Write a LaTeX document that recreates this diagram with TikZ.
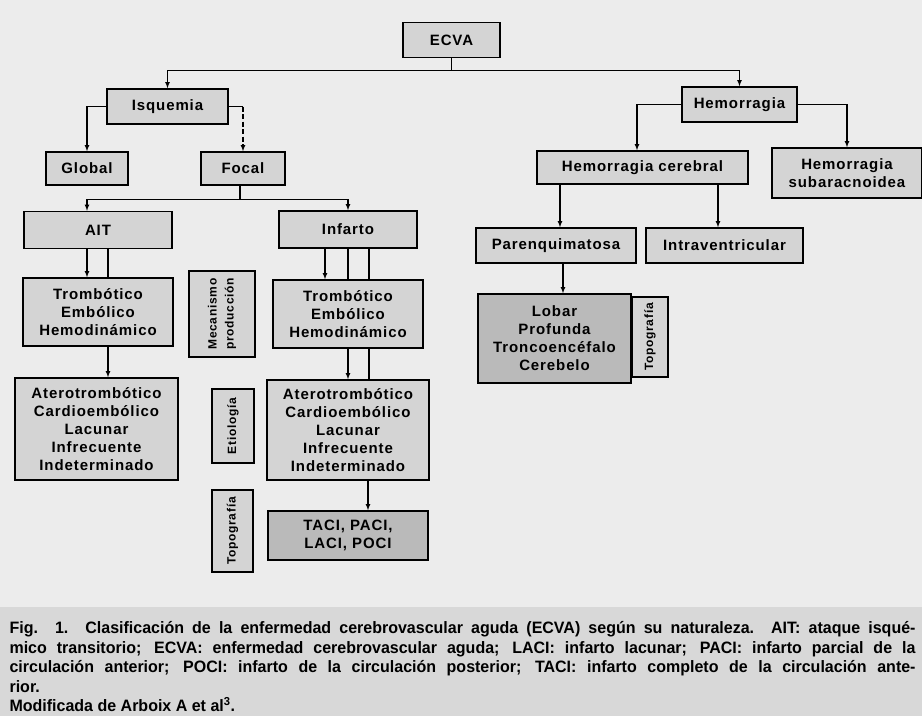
\documentclass[tikz,border=0pt]{standalone}
\usepackage{fontspec}
\setmainfont{Liberation Sans}
\newfontfamily\boxfont[LetterSpace=6]{Liberation Sans}
\newfontfamily\capfont[FakeStretch=0.97]{Liberation Sans}
\usetikzlibrary{calc}

\definecolor{paper}{RGB}{236,236,236}
\definecolor{band}{RGB}{216,216,216}
\definecolor{boxgray}{RGB}{212,212,212}
\definecolor{boxdark}{RGB}{186,186,186}

\tikzset{
  box/.style={draw, line width=1.4pt, fill=boxgray, inner sep=0pt, align=center,
    font=\boxfont\bfseries\fontsize{15}{18}\selectfont},
  darkbox/.style={box, fill=boxdark},
  sidebox/.style={box, rotate=90, font=\boxfont\bfseries\fontsize{12}{17}\selectfont},
}

\begin{document}
\begin{tikzpicture}[x=1pt,y=-1pt,>=latex,line width=1.1pt]
                \fill[paper] (0,0) rectangle (922,716);
                \fill[band] (0,607) rectangle (922,716);
                \useasboundingbox (0,0) rectangle (922,716);

                \node[box, minimum width=97pt, minimum height=35pt] (ecva) at (451.5,40) {ECVA};
                \node[box, minimum width=121pt, minimum height=35pt] (isq) at (167.5,106.5) {Isquemia};
                \node[box, minimum width=115pt, minimum height=35pt] (hemo) at (739.5,104.5) {Hemorragia};

                \node[box, minimum width=82pt, minimum height=33pt] (global) at (87,168.5) {Global};
                \node[box, minimum width=84pt, minimum height=33pt] (focal) at (243,168.5) {Focal};
                \node[box, minimum width=211pt, minimum height=33pt] (hemc) at (642.5,167.5) {Hemorragia cerebral};
                \node[box, minimum width=150pt, minimum height=50pt] (hsub) at (847,173) {Hemorragia\\subaracnoidea};

                \node[box, minimum width=148pt, minimum height=37pt] (ait) at (98,230) {AIT};
                \node[box, minimum width=138pt, minimum height=37pt] (infarto) at (348,229.5) {Infarto};
                \node[box, minimum width=160pt, minimum height=35pt] (parenq) at (556,245.5) {Parenquimatosa};
                \node[box, minimum width=157pt, minimum height=35pt] (intra) at (724.5,245.5) {Intraventricular};

                \node[box, minimum width=150pt, minimum height=68pt] (trombA) at (98,312) {Trombótico\\Embólico\\Hemodinámico};
                \node[box, minimum width=150pt, minimum height=68pt] (trombI) at (348,314) {Trombótico\\Embólico\\Hemodinámico};
                \node[sidebox, minimum width=86pt, minimum height=66pt] (meca) at (222,314) {Mecanismo\\producción};
                \node[darkbox, minimum width=153pt, minimum height=89pt] (lobar) at (554.5,338.5) {Lobar\\Profunda\\Troncoencéfalo\\Cerebelo};
                \node[sidebox, minimum width=80pt, minimum height=36pt] (topoH) at (650,337) {Topografía};

                \node[box, minimum width=163pt, minimum height=102pt] (aterA) at (96.5,429) {Aterotrombótico\\Cardioembólico\\Lacunar\\Infrecuente\\Indeterminado};
                \node[box, minimum width=162pt, minimum height=100pt] (aterI) at (348,430) {Aterotrombótico\\Cardioembólico\\Lacunar\\Infrecuente\\Indeterminado};
                \node[sidebox, minimum width=74pt, minimum height=42pt] (etio) at (233,426) {Etiología};

                \node[darkbox, minimum width=160pt, minimum height=49pt] (taci) at (348,535.5) {TACI, PACI,\\LACI, POCI};
                \node[sidebox, minimum width=82pt, minimum height=41pt] (topoI) at (232.5,531) {Topografía};

                \draw (ecva.south) -- ++(0,12.5) coordinate (fork);
                \draw[->] (fork) -| (isq.north);
                \draw[->] (fork) -| (hemo.north);

                \draw[->] (isq.west) -| (global.north);
                \draw (isq.east) -- (isq.east -| focal.north);
                \draw[->,dash pattern=on 5pt off 2.5pt] (isq.east -| focal.north) -- (focal.north);

                \draw ($(focal.south)+(-3,0)$) -- ++(0,13.5) coordinate (ffork);
                \draw[->] (ffork) -| ($(ait.north)+(-11,0)$);
                \draw[->] (ffork) -| (infarto.north);

                \draw[->] ($(ait.south)+(-11,0)$) -- ($(trombA.north)+(-11,0)$);
                \draw ($(ait.south)+(10,0)$) -- ($(trombA.north)+(10,0)$);
                \draw[->] ($(trombA.south)+(10,0)$) -- ($(aterA.north -| trombA.south)+(10,0)$);

                \draw[->] ($(infarto.south)+(-23,0)$) -- ($(trombI.north -| infarto.south)+(-23,0)$);
                \foreach \dx in {0,21}
                    \draw ($(infarto.south)+(\dx,0)$) -- ($(trombI.north -| infarto.south)+(\dx,0)$);
                \draw[->] (trombI.south) -- (aterI.north);
                \draw ($(trombI.south)+(21,0)$) -- ($(aterI.north -| trombI.south)+(21,0)$);
                \draw[->] ($(aterI.south)+(20,0)$) -- ($(taci.north -| aterI.south)+(20,0)$);

                \draw[->] (hemo.west) -| ($(hemc.north)+(-5.5,0)$);
                \draw[->] (hemo.east) -| (hsub.north);
                \draw[->] ($(hemc.south -| parenq.north)+(4,0)$) -- ($(parenq.north)+(4,0)$);
                \draw[->] ($(hemc.south -| intra.north)+(-6.5,0)$) -- ($(intra.north)+(-6.5,0)$);
                \draw[->] ($(parenq.south)+(7,0)$) -- ($(lobar.north -| parenq.south)+(7,0)$);

                \node[anchor=north west, text width=906pt, align=justify, inner sep=0pt,
                    font=\capfont\bfseries\fontsize{16.5}{19.5}\selectfont] (caption) at (9,621)
                    {Fig. 1. Clasificación de la enfermedad cerebrovascular aguda (ECVA) según su naturaleza. AIT: ataque isqué-\linebreak
                    mico transitorio; ECVA: enfermedad cerebrovascular aguda; LACI: infarto lacunar; PACI: infarto parcial de la\linebreak
                    circulación anterior; POCI: infarto de la circulación posterior; TACI: infarto completo de la circulación ante-\linebreak
                    rior.\par
                    Modificada de Arboix A et al\textsuperscript{3}.};
            \end{tikzpicture}
\end{document}
